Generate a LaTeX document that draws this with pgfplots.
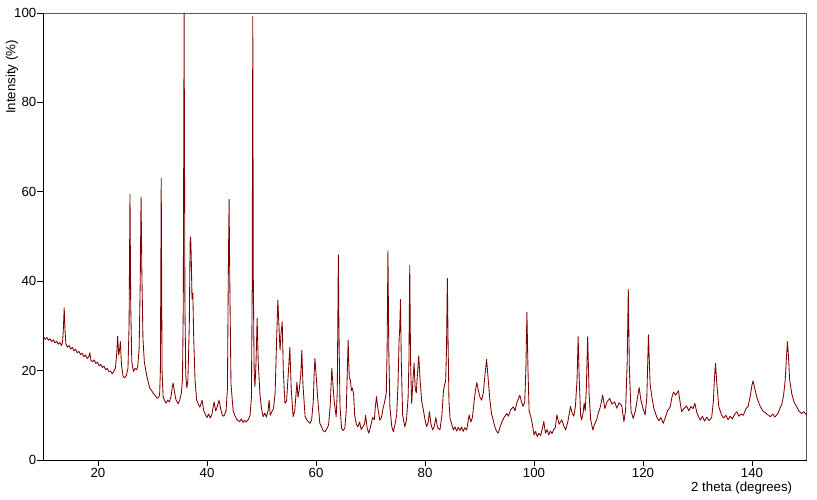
\documentclass[border=0pt]{standalone}
\usepackage{fontspec}
\setmainfont{Liberation Sans}
\usepackage{pgfplots}
\pgfplotsset{compat=1.18}
\definecolor{xrd}{RGB}{128,0,0}
\definecolor{frame}{RGB}{90,90,90}
\begin{document}
\fontsize{13.3}{16}\selectfont
\begin{tikzpicture}
\begin{axis}[
  scale only axis,
  width=763bp, height=447bp,
  xmin=10, xmax=150, ymin=0, ymax=100,
  xtick={20,40,60,80,100,120,140},
  ytick={0,20,40,60,80,100},
  tick align=outside,
  xtick pos=bottom, ytick pos=left,
  major tick length=6bp,
  tick style={black, line width=0.8bp},
  axis line style={frame, line width=0.9bp},
  /pgf/number format/assume math mode=true,
  tick label style={font=\fontsize{13.3}{16}\selectfont},
  xticklabel style={inner sep=1bp, yshift=-1bp},
  yticklabel style={inner sep=1bp},
  xlabel={2 theta (degrees)},
  ylabel={Intensity (\%)},
  xlabel style={at={(axis description cs:0.915,0)}, anchor=center, yshift=-28bp, font=\fontsize{13.3}{16}\selectfont},
  ylabel style={at={(axis description cs:-0.0413,0.857)}, anchor=center, font=\fontsize{13.3}{16}\selectfont},
  clip=false,
]
\addplot[xrd, line width=0.85bp, line join=round] table {
10.0 27.6
10.3 27.0
10.6 27.4
10.9 26.8
11.2 27.1
11.5 26.5
11.8 26.9
12.1 26.2
12.4 26.6
12.7 25.9
13.0 26.3
13.3 25.6
13.5 26.4
13.65 29.5
13.8 34.0
13.95 29.0
14.1 26.0
14.4 25.2
14.7 25.6
15.0 24.8
15.3 25.2
15.6 24.4
15.9 24.8
16.2 24.0
16.5 24.3
16.8 23.6
17.1 23.9
17.4 23.1
17.7 23.5
18.0 22.7
18.3 23.1
18.5 24.0
18.7 22.3
19.0 22.0
19.3 22.4
19.6 21.6
19.9 21.9
20.2 21.1
20.5 21.4
20.8 20.7
21.1 21.0
21.4 20.2
21.7 20.5
22.0 19.8
22.3 19.9
22.6 19.3
22.9 19.8
23.2 20.6
23.45 24.0
23.6 27.7
23.8 23.5
24.0 25.0
24.1 26.5
24.3 21.5
24.6 18.7
24.9 18.4
25.2 18.9
25.5 20.5
25.7 30.0
25.87 59.5
26.0 35.0
26.2 22.0
26.5 19.8
26.8 20.5
27.1 20.2
27.3 21.0
27.55 25.0
27.75 40.0
27.9 58.8
28.05 42.0
28.25 27.0
28.5 22.0
28.8 19.8
29.1 18.0
29.5 16.1
29.8 15.6
30.1 15.0
30.4 14.6
30.7 14.0
31.0 13.8
31.3 14.5
31.45 20.0
31.6 63.0
31.75 20.0
31.95 14.0
32.2 13.4
32.5 12.7
32.8 13.4
33.1 13.0
33.4 14.2
33.65 16.5
33.8 17.2
34.0 15.5
34.3 13.5
34.7 12.6
35.0 13.4
35.3 15.0
35.5 18.0
35.65 35.0
35.8 100
35.95 35.0
36.1 19.0
36.3 16.1
36.5 18.0
36.75 30.0
36.9 48.5
37.0 49.9
37.1 46.0
37.25 36.0
37.4 37.3
37.55 28.0
37.8 18.0
38.1 13.4
38.4 12.5
38.7 11.8
39.1 13.4
39.4 11.0
39.7 10.2
40.0 9.5
40.3 10.3
40.6 9.4
40.9 10.2
41.3 13.0
41.6 11.0
41.9 12.0
42.2 13.4
42.5 11.5
42.8 10.0
43.1 9.8
43.5 11.0
43.75 16.0
43.9 40.0
44.05 58.3
44.2 38.0
44.4 17.0
44.8 11.0
45.1 10.0
45.4 9.2
45.7 8.8
46.0 8.6
46.3 9.2
46.6 8.4
46.9 8.9
47.2 8.5
47.6 9.1
47.9 10.0
48.15 14.0
48.3 40.0
48.4 99.2
48.5 40.0
48.65 20.0
48.8 16.4
49.0 22.0
49.2 31.7
49.4 22.0
49.7 15.0
50.0 11.5
50.3 9.7
50.6 10.5
50.9 9.6
51.2 11.0
51.4 13.4
51.6 10.0
51.9 10.8
52.2 11.5
52.5 15.0
52.8 28.0
53.0 35.8
53.2 30.0
53.4 24.6
53.6 28.5
53.8 30.9
54.0 20.0
54.3 12.7
54.6 13.2
54.95 20.0
55.2 25.2
55.45 16.0
55.8 9.7
56.1 11.0
56.5 17.4
56.7 14.0
56.9 15.5
57.2 19.0
57.4 24.5
57.6 17.0
58.0 9.7
58.3 9.0
58.6 8.6
58.9 8.2
59.2 9.0
59.5 13.0
59.65 19.0
59.8 22.7
60.0 19.5
60.3 14.0
60.7 8.2
61.0 7.5
61.3 6.6
61.65 6.3
62.0 7.0
62.3 7.8
62.6 12.0
62.9 20.5
63.1 17.0
63.35 13.0
63.7 9.7
63.9 15.0
64.0 30.0
64.1 45.9
64.2 30.0
64.4 12.0
64.7 7.0
65.0 6.6
65.3 7.2
65.55 11.0
65.75 20.0
65.9 26.8
66.1 18.5
66.3 17.9
66.5 15.5
66.7 16.1
66.9 14.7
67.1 10.0
67.4 8.0
67.7 7.4
68.0 8.5
68.3 6.8
68.6 7.5
68.9 8.0
69.1 10.0
69.4 7.0
69.7 6.0
70.0 7.5
70.4 9.5
70.7 9.0
70.9 12.0
71.1 14.2
71.3 12.0
71.7 8.9
72.0 9.5
72.3 11.5
72.66 13.4
72.9 15.0
73.05 25.0
73.2 46.8
73.35 25.0
73.55 12.0
73.9 7.5
74.2 6.3
74.5 8.0
74.8 10.0
75.05 17.0
75.25 27.0
75.35 29.1
75.5 35.9
75.65 22.0
75.9 10.0
76.3 7.4
76.6 9.0
76.9 14.0
77.05 22.0
77.2 43.5
77.35 22.0
77.55 12.7
77.8 18.0
78.0 21.6
78.2 16.0
78.4 15.0
78.6 19.0
78.85 23.3
79.1 17.9
79.4 13.0
79.7 11.2
80.0 9.0
80.3 7.5
80.6 8.5
80.8 10.8
81.1 8.0
81.4 6.7
81.7 7.5
82.0 9.5
82.3 7.2
82.75 6.8
83.1 10.0
83.4 15.7
83.8 17.9
83.95 25.0
84.1 40.6
84.25 25.0
84.4 13.0
84.6 9.3
84.9 8.0
85.2 6.7
85.5 7.4
85.8 6.5
86.1 7.3
86.4 6.6
86.7 7.4
87.0 6.4
87.3 7.2
87.65 6.7
88.1 10.1
88.4 8.5
88.7 9.5
89.0 13.0
89.25 15.5
89.5 17.3
89.8 15.5
90.1 14.0
90.4 13.4
90.7 15.0
91.0 19.0
91.3 22.5
91.6 18.0
91.9 13.5
92.2 10.4
92.5 9.0
92.8 7.5
93.1 6.5
93.45 6.0
93.8 7.5
94.1 8.5
94.5 9.5
95.0 10.4
95.3 9.8
95.7 11.2
96.2 11.9
96.5 11.0
96.9 13.0
97.4 14.5
97.7 13.0
98.0 12.0
98.3 13.0
98.5 20.0
98.7 33.0
98.9 20.0
99.1 11.0
99.4 9.7
99.7 8.0
100.0 5.6
100.3 6.4
100.6 5.2
100.9 6.0
101.2 5.5
101.5 6.8
101.8 8.6
102.1 6.0
102.4 6.8
102.7 5.6
103.0 6.5
103.3 5.9
103.6 6.8
103.9 7.2
104.2 10.1
104.6 8.0
105.1 9.0
105.5 7.5
105.8 6.7
106.2 8.5
106.7 12.0
107.0 10.5
107.3 9.8
107.6 12.0
107.9 18.0
108.1 27.6
108.3 18.0
108.55 10.0
108.75 9.0
109.0 10.5
109.2 12.7
109.4 11.0
109.6 16.0
109.85 27.6
110.1 15.0
110.4 9.0
110.8 6.7
111.1 8.0
111.5 9.0
111.8 10.5
112.2 12.0
112.6 14.5
113.0 11.5
113.4 13.0
113.9 13.8
114.3 12.5
114.8 13.0
115.2 11.6
115.6 12.8
116.1 12.2
116.5 8.6
116.8 11.0
117.1 22.0
117.3 38.2
117.5 20.0
117.8 11.0
118.2 9.3
118.6 11.0
119.0 14.0
119.3 16.2
119.6 13.5
120.0 11.5
120.4 10.1
120.7 14.0
121.0 28.0
121.3 17.0
121.6 14.3
122.0 11.5
122.5 9.7
122.9 8.8
123.3 9.5
123.7 8.2
124.1 9.5
124.5 11.0
125.0 11.9
125.3 14.0
125.6 15.2
126.0 14.5
126.5 15.5
126.8 13.0
127.1 10.8
127.5 11.5
128.0 12.1
128.4 11.0
128.8 12.0
129.2 11.5
129.5 12.7
129.9 10.5
130.5 8.9
130.9 9.8
131.3 8.7
131.7 9.6
132.1 8.8
132.6 9.5
132.9 13.0
133.1 18.0
133.3 21.6
133.55 17.0
133.9 12.0
134.4 10.1
134.8 9.4
135.2 10.0
135.6 9.0
136.0 9.8
136.4 9.2
136.8 10.2
137.2 10.8
137.6 9.8
138.0 10.3
138.4 10.0
138.9 11.5
139.3 12.0
139.7 14.5
140.0 16.8
140.2 17.7
140.5 16.0
140.9 14.0
141.5 12.0
142.0 11.0
142.5 10.5
143.0 10.0
143.4 9.7
143.8 10.3
144.2 9.6
144.8 10.5
145.1 11.5
145.45 12.4
145.8 14.5
146.1 18.0
146.3 22.5
146.5 26.5
146.7 23.0
146.9 18.0
147.3 14.8
147.7 13.0
148.2 11.9
148.6 11.0
149.1 10.4
149.5 10.8
150.0 10.1
};
\draw[black, line width=0.9bp] (rel axis cs:0,1) -- (rel axis cs:0,0) -- (rel axis cs:1,0);
\coordinate (bl) at (rel axis cs:0,0);
\coordinate (tr) at (rel axis cs:1,1);
\end{axis}
\path ([shift={(-43.5bp,-40bp)}]bl) rectangle ([shift={(10.5bp,13bp)}]tr);
\end{tikzpicture}
\end{document}
